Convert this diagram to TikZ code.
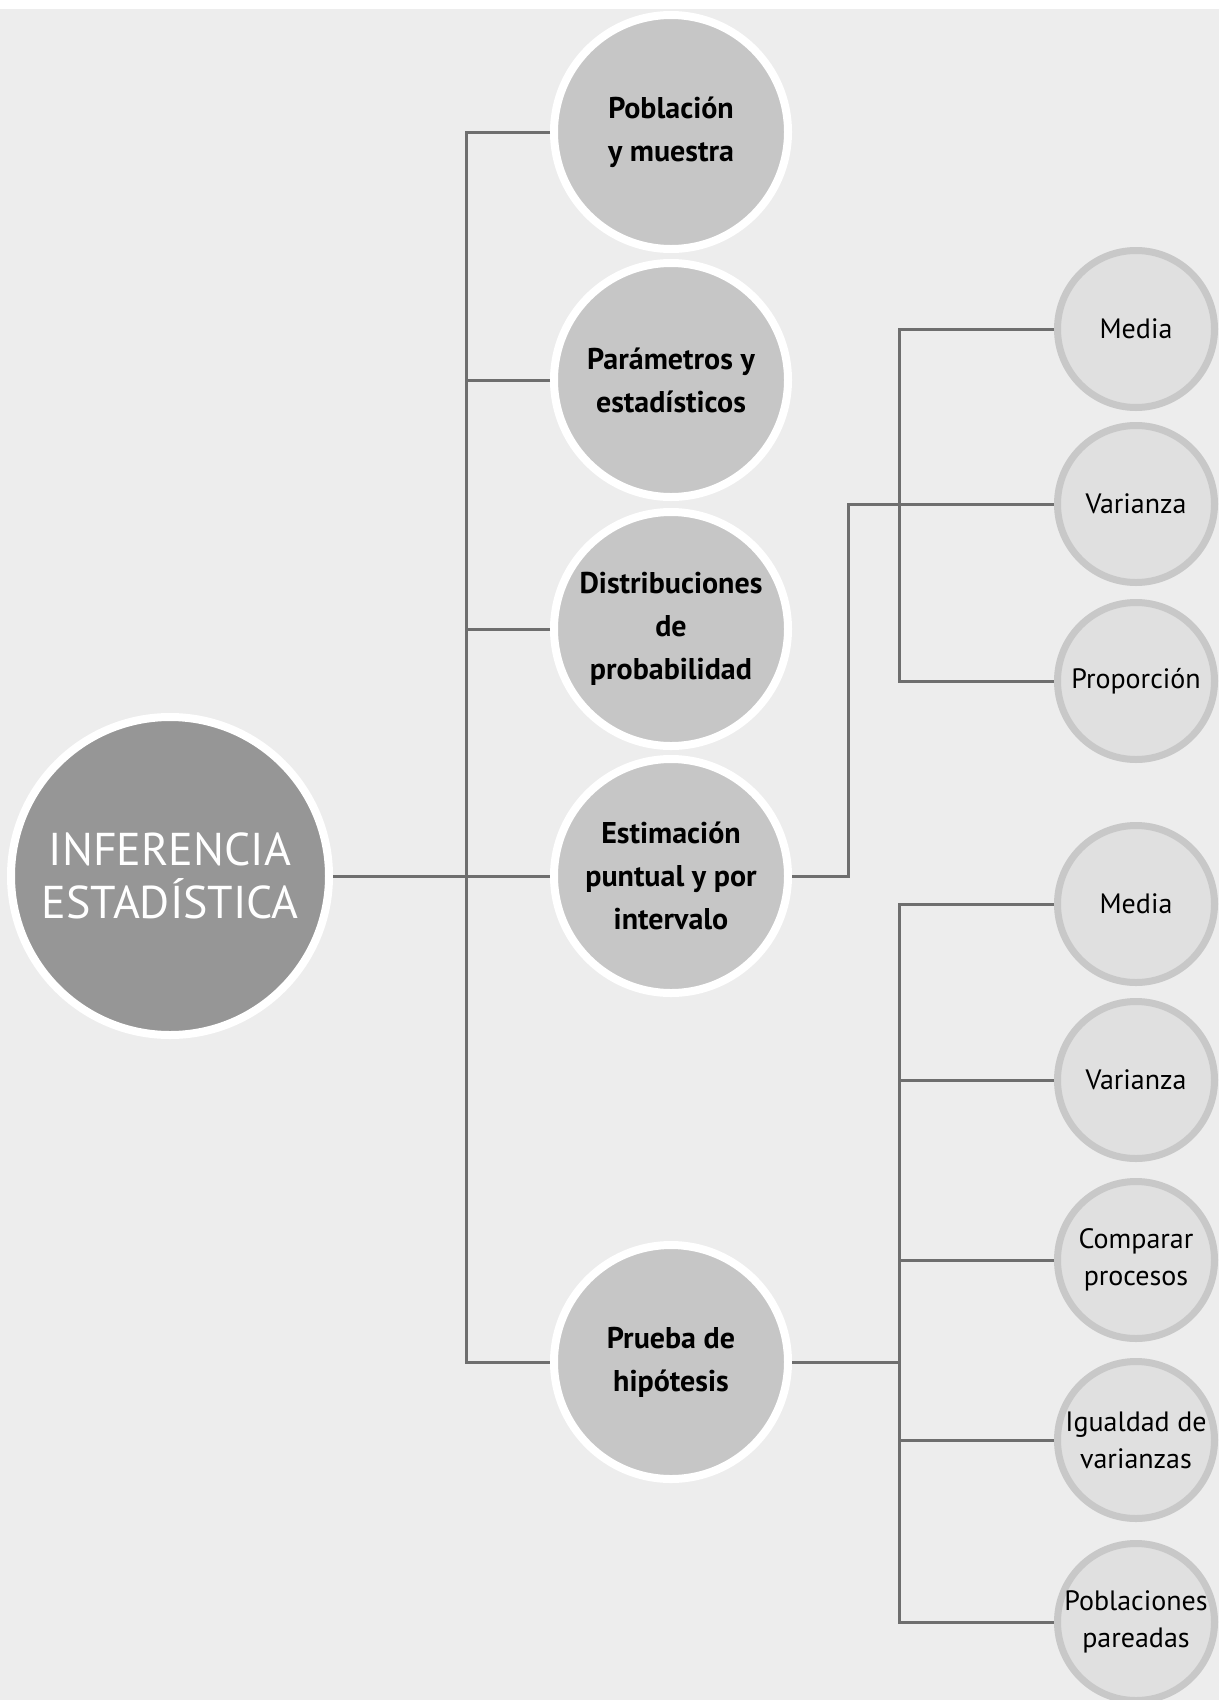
\documentclass[tikz,border=0pt]{standalone}
\usepackage{fontspec}
\setmainfont{PT Sans}
\definecolor{czero}{HTML}{969696}
\definecolor{cone}{HTML}{C6C6C6}
\definecolor{ctwo}{HTML}{E0E0E0}
\definecolor{ctwob}{HTML}{C8C8C8}
\definecolor{cbg}{HTML}{EDEDED}
\definecolor{cline}{HTML}{6E6E6E}
\begin{document}
\begin{tikzpicture}[x=1pt,y=-1pt,
  mainc/.style={circle, fill=czero, draw=white, line width=8pt, minimum size=318pt, inner sep=0pt, align=center, text=white, font=\fontsize{46}{53}\selectfont},
  lvone/.style={circle, fill=cone, draw=white, line width=8pt, minimum size=234pt, inner sep=0pt, align=center, text=black, font=\fontsize{30}{43}\selectfont\bfseries},
  lvtwo/.style={circle, fill=ctwo, draw=ctwob, line width=7pt, minimum size=157pt, inner sep=0pt, align=center, text=black, font=\fontsize{28}{37}\selectfont},
  conn/.style={draw=cline, line width=3pt}]
\useasboundingbox (0,0) rectangle (1219,1700);
\clip (0,0) rectangle (1219,1700);
\fill[white] (0,0) rectangle (1219,1700);
\fill[cbg] (0,9) rectangle (1219,1700);

\coordinate (tx) at (466,0);
\coordinate (ex) at (848,0);
\coordinate (fx) at (899,0);

\node[mainc] (inf) at (170,876) {INFERENCIA\\ESTADÍSTICA};
\node[lvone] (pob) at (671,132) {Población\\y muestra};
\node[lvone] (par) at (671,380) {Parámetros y\\estadísticos};
\node[lvone] (dis) at (671,629) {Distribuciones\\de\\probabilidad};
\node[lvone] (est) at (671,876) {Estimación\\puntual y por\\intervalo};
\node[lvone] (pru) at (671,1362) {Prueba de\\hipótesis};

\node[lvtwo] (ma) at (1136,329) {Media};
\node[lvtwo] (va) at (1136,504) {Varianza};
\node[lvtwo] (pa) at (1136,681) {Proporción};
\node[lvtwo] (mb) at (1136,904) {Media};
\node[lvtwo] (vb) at (1136,1080) {Varianza};
\node[lvtwo] (cb) at (1136,1260) {Comparar\\procesos};
\node[lvtwo] (ib) at (1136,1440) {Igualdad de\\varianzas};
\node[lvtwo] (pb) at (1136,1622) {Poblaciones\\pareadas};

% main trunk
\draw[conn] (pob.west) -- (pob.west -| tx) -- (pru.west -| tx) -- (pru.west);
\draw[conn] (par.west) -- (par.west -| tx);
\draw[conn] (dis.west) -- (dis.west -| tx);
\draw[conn] (inf.east) -- (est.west);

% estimation branch
\draw[conn] (est.east) -- (est.east -| ex) -- (ex |- va.west) -- (va.west);
\draw[conn] (ma.west) -- (ma.west -| fx) -- (pa.west -| fx) -- (pa.west);

% hypothesis branch
\draw[conn] (mb.west) -- (mb.west -| fx) -- (pb.west -| fx) -- (pb.west);
\draw[conn] (pru.east) -- (pru.east -| fx);
\draw[conn] (vb.west) -- (vb.west -| fx);
\draw[conn] (cb.west) -- (cb.west -| fx);
\draw[conn] (ib.west) -- (ib.west -| fx);
\end{tikzpicture}
\end{document}
